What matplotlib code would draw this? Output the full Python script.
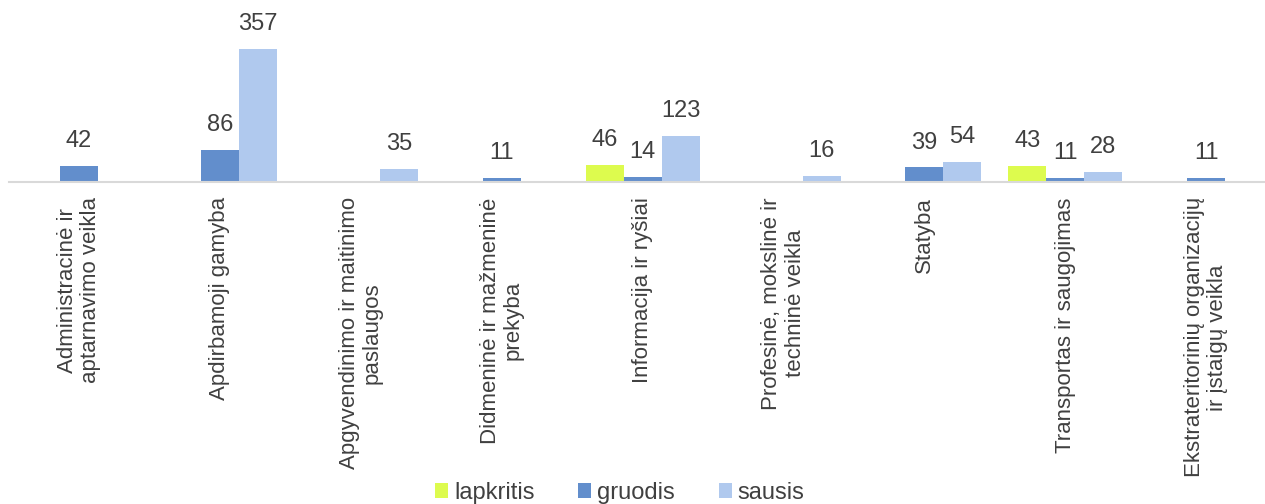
import numpy as np
import matplotlib
matplotlib.use("Agg")
import matplotlib.pyplot as plt
from matplotlib.patches import Patch

plt.rcParams['font.family'] = ['Liberation Sans', 'DejaVu Sans']

categories = [
    "Administracinė ir\naptarnavimo veikla",
    "Apdirbamoji gamyba",
    "Apgyvendinimo ir maitinimo\npaslaugos",
    "Didmeninė ir mažmeninė\nprekyba",
    "Informacija ir ryšiai",
    "Profesinė, mokslinė ir\ntechninė veikla",
    "Statyba",
    "Transportas ir saugojimas",
    "Ekstrateritorinių organizacijų\nir įstaigų veikla",
]
series_names = ["lapkritis", "gruodis", "sausis"]
lapkritis = [None, None, None, None, 46, None, None, 43, None]
gruodis = [42, 86, None, 11, 14, None, 39, 11, 11]
sausis = [None, 357, 35, None, 123, 16, 54, 28, None]
colors = ["#DDFB4E", "#628ECC", "#B0C9EE"]

fig = plt.figure(figsize=(12.65, 5.04), dpi=100)
pitch = 140.9
left_px = 79 - pitch / 2
ax = fig.add_axes([left_px/1265, (504-182)/504, 9*pitch/1265, 172/504])

n = len(categories)
x = np.arange(n)
w = 0.27
text_color = "#404040"
for i, (vals, col) in enumerate(zip([lapkritis, gruodis, sausis], colors)):
    xs = x + (i - 1) * w
    for xi, v in zip(xs, vals):
        if v is None:
            continue
        ax.bar(xi, v, width=w, color=col, edgecolor='none')
        ax.annotate(str(v), (xi, v), xytext=(0, 10), textcoords='offset points',
                    ha='center', va='bottom', fontsize=17, color=text_color)

ax.set_xlim(-0.5, n - 0.5)
ax.set_ylim(0, 460)
ax.set_yticks([])
for s in ['top', 'right', 'left']:
    ax.spines[s].set_visible(False)
ax.spines['bottom'].set_color('#D9D9D9')
ax.spines['bottom'].set_linewidth(1.5)
ax.set_xticks(x)
ax.set_xticklabels(categories, rotation=90, fontsize=16, color=text_color,
                   ha='center', va='top', multialignment='center', linespacing=1.15)
ax.tick_params(axis='x', length=0, pad=11)

handles = [Patch(facecolor=c, edgecolor='none') for c in colors]
fig.legend(handles, series_names, loc='lower center', bbox_to_anchor=(620/1265, -0.042),
           ncol=3, frameon=False, fontsize=17, handlelength=0.55, handleheight=0.55,
           handletextpad=0.25, columnspacing=1.85, labelcolor=text_color)

fig.savefig("out.png", dpi=100)
